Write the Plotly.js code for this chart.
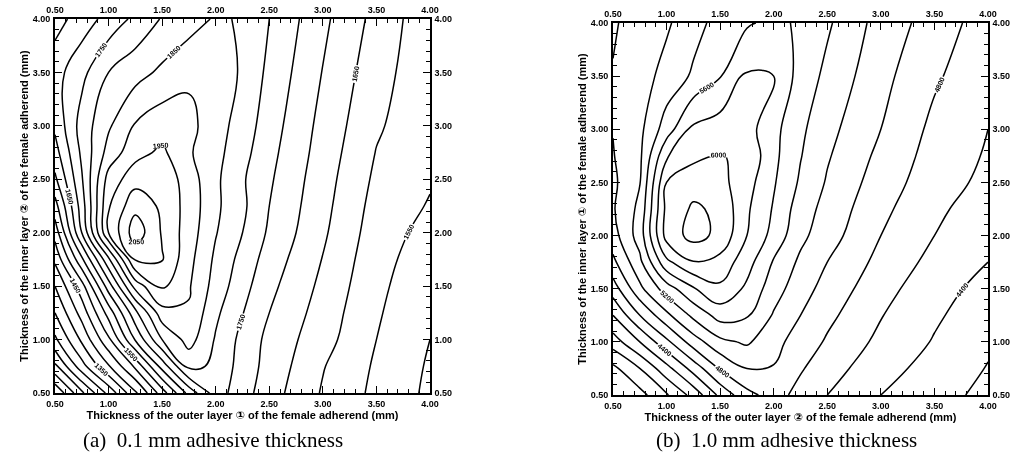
<!DOCTYPE html>
<html><head><meta charset="utf-8">
<script src="https://cdn.plot.ly/plotly-3.0.1.min.js"></script>
<style>body{margin:0;background:#fff}#c{width:1015px;height:467px;filter:grayscale(1)}</style>
</head><body><div id="c"></div>
<script>
// ---- (a) 0.1 mm adhesive thickness ----
const xA = [0.5,0.75,1,1.25,1.5,1.75,2,2.25,2.5,3,3.5,4];
const yA = [0.5,0.75,1,1.25,1.5,1.75,2,2.25,2.5,2.75,3,3.5,4];
const zA = [
 [1005,1140,1265,1390,1525,1667,1775,1720,1672,1595,1538,1490],
 [1140,1280,1395,1510,1670,1815,1790,1728,1682,1603,1543,1494],
 [1240,1360,1490,1655,1800,1870,1795,1735,1686,1619,1550,1500],
 [1300,1420,1570,1735,1880,1895,1810,1752,1700,1628,1556,1506],
 [1350,1480,1675,1870,1960,1905,1830,1768,1713,1638,1562,1513],
 [1410,1590,1790,2005,2003,1915,1840,1783,1727,1648,1568,1522],
 [1470,1700,1950,2080,1995,1925,1853,1800,1742,1658,1575,1533],
 [1530,1725,1945,2035,1990,1930,1860,1810,1750,1665,1582,1546],
 [1590,1745,1920,1980,1985,1925,1860,1806,1757,1671,1590,1555],
 [1630,1760,1869,1933,1960,1906,1866,1817,1765,1678,1598,1559],
 [1660,1771,1843,1905,1930,1915,1871,1828,1773,1684,1607,1562],
 [1680,1736,1800,1831,1860,1890,1872,1845,1787,1698,1620,1565],
 [1630,1673,1718,1762,1804,1827,1856,1846,1800,1711,1634,1566]
];
// ---- (b) 1.0 mm adhesive thickness ----
const xB = [0.5,0.75,1,1.25,1.5,1.75,2,2.25,2.5,3,3.5,4];
const yB = [0.5,0.75,1,1.25,1.5,1.75,2,2.25,2.5,2.75,3,3.5,4];
const zB = [
 [3300,3530,3780,4070,4450,4740,4880,4735,4600,4400,4270,4150],
 [3550,3800,4130,4480,4820,5000,4990,4820,4690,4470,4330,4190],
 [3900,4200,4550,4900,5150,5230,5060,4915,4775,4550,4385,4230],
 [4200,4600,4950,5250,5480,5420,5180,5000,4850,4610,4430,4280],
 [4500,4950,5300,5580,5760,5560,5290,5080,4930,4670,4480,4330],
 [4750,5150,5750,5990,5930,5680,5380,5160,5000,4740,4540,4400],
 [4920,5290,6080,6270,6150,5800,5530,5250,5085,4800,4600,4460],
 [4980,5250,6060,6230,6160,5830,5580,5300,5130,4850,4640,4500],
 [4960,5190,6000,6120,6060,5880,5620,5370,5180,4900,4690,4550],
 [4990,5160,5780,5950,6010,5960,5650,5410,5220,4950,4720,4580],
 [5005,5150,5500,5850,5900,5880,5660,5440,5260,5000,4750,4600],
 [5010,5110,5270,5430,5590,5830,5800,5520,5350,5060,4830,4650],
 [4980,5075,5170,5330,5470,5575,5650,5570,5430,5120,4910,4700]
];
const tickVals = [0.5,1,1.5,2,2.5,3,3.5,4];
const tickText = ['0.50','1.00','1.50','2.00','2.50','3.00','3.50','4.00'];
const xTitleA = 'Thickness of the outer layer ① of the female adherend (mm)';
const yTitleA = 'Thickness of the inner layer ② of the female adherend (mm)';
const xTitleB = 'Thickness of the outer layer ② of the female adherend (mm)';
const yTitleB = 'Thickness of the inner layer ① of the female adherend (mm)';
const captionA = '(a)  0.1 mm adhesive thickness';
const captionB = '(b)  1.0 mm adhesive thickness';

const FONT = 'Liberation Sans, Arial, DejaVu Sans, sans-serif';
const lblFont = {family: FONT, size: 7, color: '#000', weight: 'bold'};
const BLACK = [[0,'#000'],[1,'#000']];

function cLines(x, y, z, xa, ya, start, end, size, labels) {
  const c = {coloring:'none', start:start, end:end, size:size, showlabels:labels};
  if (labels) c.labelfont = lblFont;
  return {type:'contour', x:x, y:y, z:z, xaxis:xa, yaxis:ya, showscale:false, hoverinfo:'skip',
    autocontour:false, colorscale:BLACK, contours:c, line:{color:'#000', width:1.5, smoothing:1.2}};
}

const data = [
  cLines(xA, yA, zA, 'x', 'y', 1100, 2000, 100, false),
  cLines(xA, yA, zA, 'x', 'y', 1050, 1250, 100, false),
  cLines(xA, yA, zA, 'x', 'y', 1350, 2050, 100, true),
  cLines(xB, yB, zB, 'x2', 'y2', 3800, 6200, 400, false),
  cLines(xB, yB, zB, 'x2', 'y2', 3200, 4000, 400, false),
  cLines(xB, yB, zB, 'x2', 'y2', 4400, 6000, 400, true),
  {type:'scatter', x:[], y:[], xaxis:'x3', yaxis:'y3', showlegend:false, hoverinfo:'skip'},
  {type:'scatter', x:[], y:[], xaxis:'x4', yaxis:'y4', showlegend:false, hoverinfo:'skip'}
];

const tickFont = {family: FONT, size: 9, color: '#000', weight: 'bold'};
const titleFont = {family: FONT, size: 11, color: '#000', weight: 'bold'};
function ax(domain, anchor, side, title, overlay, standoff) {
  const a = {
    domain: domain, anchor: anchor, side: side, range: [0.5, 4], autorange: false,
    tickmode: 'array', tickvals: tickVals, ticktext: tickText,
    ticks: 'inside', ticklen: 7, tickwidth: 1.2, tickcolor: '#000',
    minor: {tickmode: 'linear', tick0: 0.5, dtick: 0.1, ticks: 'inside', ticklen: 4, tickwidth: 1, tickcolor: '#000'},
    showline: true, linecolor: '#000', linewidth: 1.8,
    showgrid: false, zeroline: false, tickfont: tickFont, ticklabelstandoff: 1
  };
  if (title) a.title = {text: title, font: titleFont, standoff: standoff};
  if (overlay) a.overlaying = overlay;
  return a;
}
const dAx = [55/1015, 430/1015], dAy = [1-393/467, 1-19/467];
const dBx = [613/1015, 988/1015], dBy = [1-395/467, 1-23/467];

const layout = {
  width: 1015, height: 467, margin: {l:0, r:0, t:0, b:0},
  paper_bgcolor: '#fff', plot_bgcolor: '#fff', showlegend: false,
  xaxis: ax(dAx, 'y', 'bottom', xTitleA, null, 1),
  yaxis: ax(dAy, 'x', 'left', yTitleA, null, 2),
  xaxis2: ax(dBx, 'y2', 'bottom', xTitleB, null, 1),
  yaxis2: ax(dBy, 'x2', 'left', yTitleB, null, 2),
  xaxis3: ax(dAx, 'y3', 'top', null, 'x'),
  yaxis3: ax(dAy, 'x3', 'right', null, 'y'),
  xaxis4: ax(dBx, 'y4', 'top', null, 'x2'),
  yaxis4: ax(dBy, 'x4', 'right', null, 'y2'),
  annotations: [
    {text: captionA, xref:'paper', yref:'paper', x: 213/1015, y: 1-440/467, xanchor:'center', yanchor:'middle', showarrow:false,
     font:{family:'Liberation Serif, DejaVu Serif, serif', size:21, color:'#000'}},
    {text: captionB, xref:'paper', yref:'paper', x: 786/1015, y: 1-440/467, xanchor:'center', yanchor:'middle', showarrow:false,
     font:{family:'Liberation Serif, DejaVu Serif, serif', size:21, color:'#000'}}
  ]
};
Plotly.newPlot('c', data, layout, {staticPlot: true});
</script></body></html>
